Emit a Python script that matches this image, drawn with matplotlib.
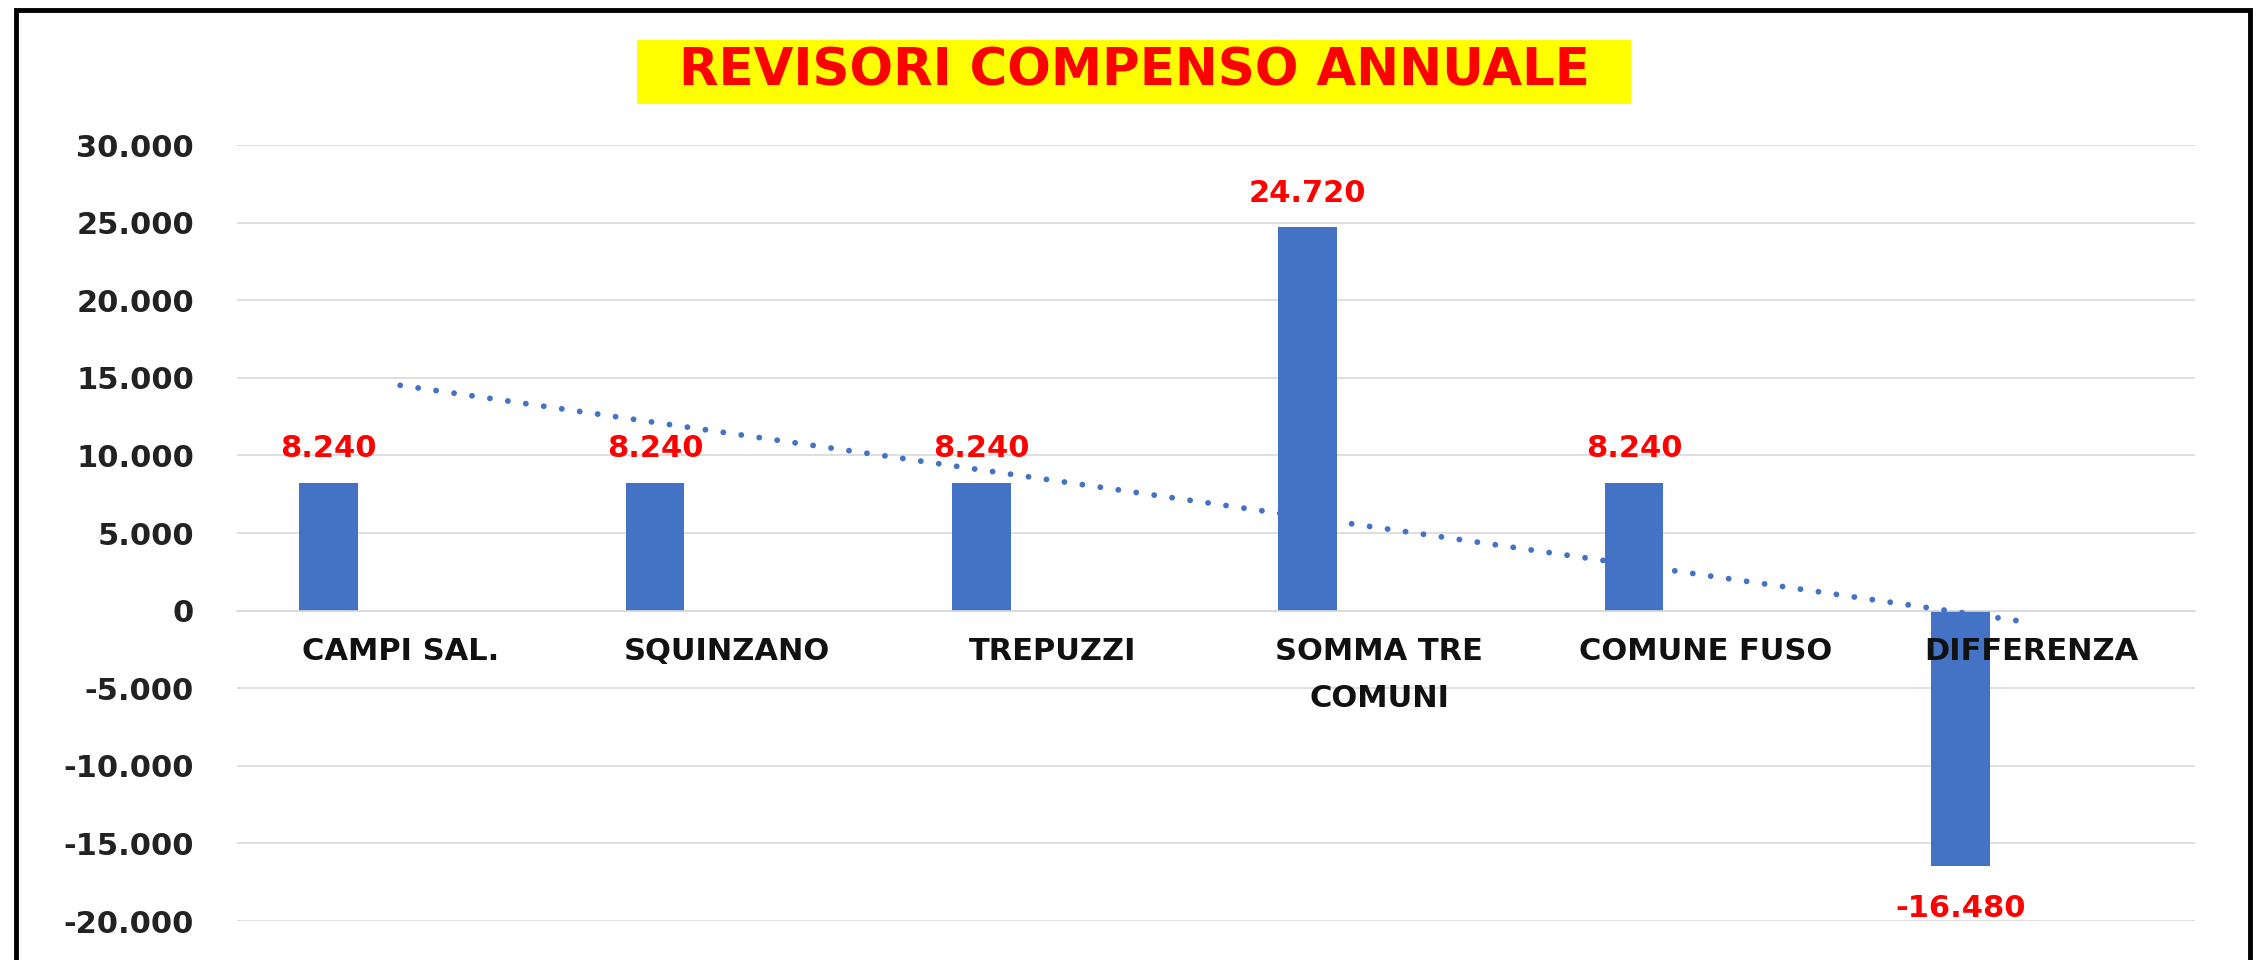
import numpy as np
import matplotlib
matplotlib.use("Agg")
import matplotlib.pyplot as plt
from matplotlib.patches import Rectangle
from matplotlib.ticker import FuncFormatter, MultipleLocator

# data
categories = ['CAMPI SAL.', 'SQUINZANO', 'TREPUZZI', 'SOMMA TRE\nCOMUNI', 'COMUNE FUSO', 'DIFFERENZA']
compenso = [8240, 8240, 8240, 24720, 8240, -16480]
title = 'REVISORI COMPENSO ANNUALE'

BLUE = '#4472C4'
RED = '#FF0000'
GRID = '#D9D9D9'


def fmt_it(v, pos=None):
    return f"{int(round(v)):,}".replace(",", ".")


plt.rcParams['font.family'] = ['DejaVu Sans']

fig = plt.figure(figsize=(22.57, 9.6), dpi=100)
ax = fig.add_axes([0.105, 0.0406, 0.8675, 0.8083])

x = np.arange(len(categories))
# bars sit left of the category centre (excel clustered layout)
ax.bar(x - 0.219, compenso, width=0.18, color=BLUE, zorder=2)

for xi, v in zip(x - 0.219, compenso):
    off = 14 if v >= 0 else -20
    ax.annotate(fmt_it(v), (xi, v), xytext=(0, off), textcoords='offset points',
                ha='center', va='bottom' if v >= 0 else 'top',
                color=RED, fontsize=22, fontweight='bold', zorder=4)

# linear trendline over the category positions
slope, icpt = np.polyfit(x + 1, compenso, 1)
ax.plot(x, slope * (x + 1) + icpt, color=BLUE, lw=4.2,
        linestyle=(0, (0.01, 3.1)), dash_capstyle='round', zorder=3)

ax.set_xlim(-0.5, len(categories) - 0.5)
ax.set_ylim(-20000, 30000)
ax.yaxis.set_major_locator(MultipleLocator(5000))
ax.yaxis.set_major_formatter(FuncFormatter(fmt_it))
ax.grid(axis='y', color=GRID, lw=1.2, zorder=0)
ax.set_axisbelow(True)

for s in ['top', 'right', 'left']:
    ax.spines[s].set_visible(False)
ax.spines['bottom'].set_position(('data', 0))
ax.spines['bottom'].set_color(GRID)
ax.spines['bottom'].set_linewidth(1.2)

# category names drawn as text so they sit on top of the bars
ax.set_xticks(x)
ax.set_xticklabels([])
ax.tick_params(axis='x', length=0)
for xi, name in zip(x, categories):
    ax.annotate(name, (xi, 0), xytext=(0, -19), textcoords='offset points',
                ha='center', va='top', multialignment='center',
                fontsize=22, fontweight='bold', color='#111111',
                linespacing=1.8, zorder=6)

ax.tick_params(axis='y', length=0, pad=31, labelsize=22, colors='#222222')
for lab in ax.get_yticklabels():
    lab.set_fontweight('bold')

# yellow title box
fig.patches.append(Rectangle((637 / 2257, 1 - 104 / 960), 994 / 2257, 64 / 960,
                             transform=fig.transFigure, facecolor='#FFFF00',
                             edgecolor='none', zorder=1))
fig.text(1134 / 2257, 1 - 72 / 960, title, ha='center', va='center',
         fontsize=37, fontweight='bold', color=RED, zorder=2)

# outer chart border (bottom edge cut off in the original)
fig.patches.append(Rectangle((16 / 2257, -0.05), 2234 / 2257, 1.05 - 10 / 960,
                             transform=fig.transFigure, facecolor='none',
                             edgecolor='black', lw=3.5, zorder=5))

fig.savefig('out.png', dpi=100)
